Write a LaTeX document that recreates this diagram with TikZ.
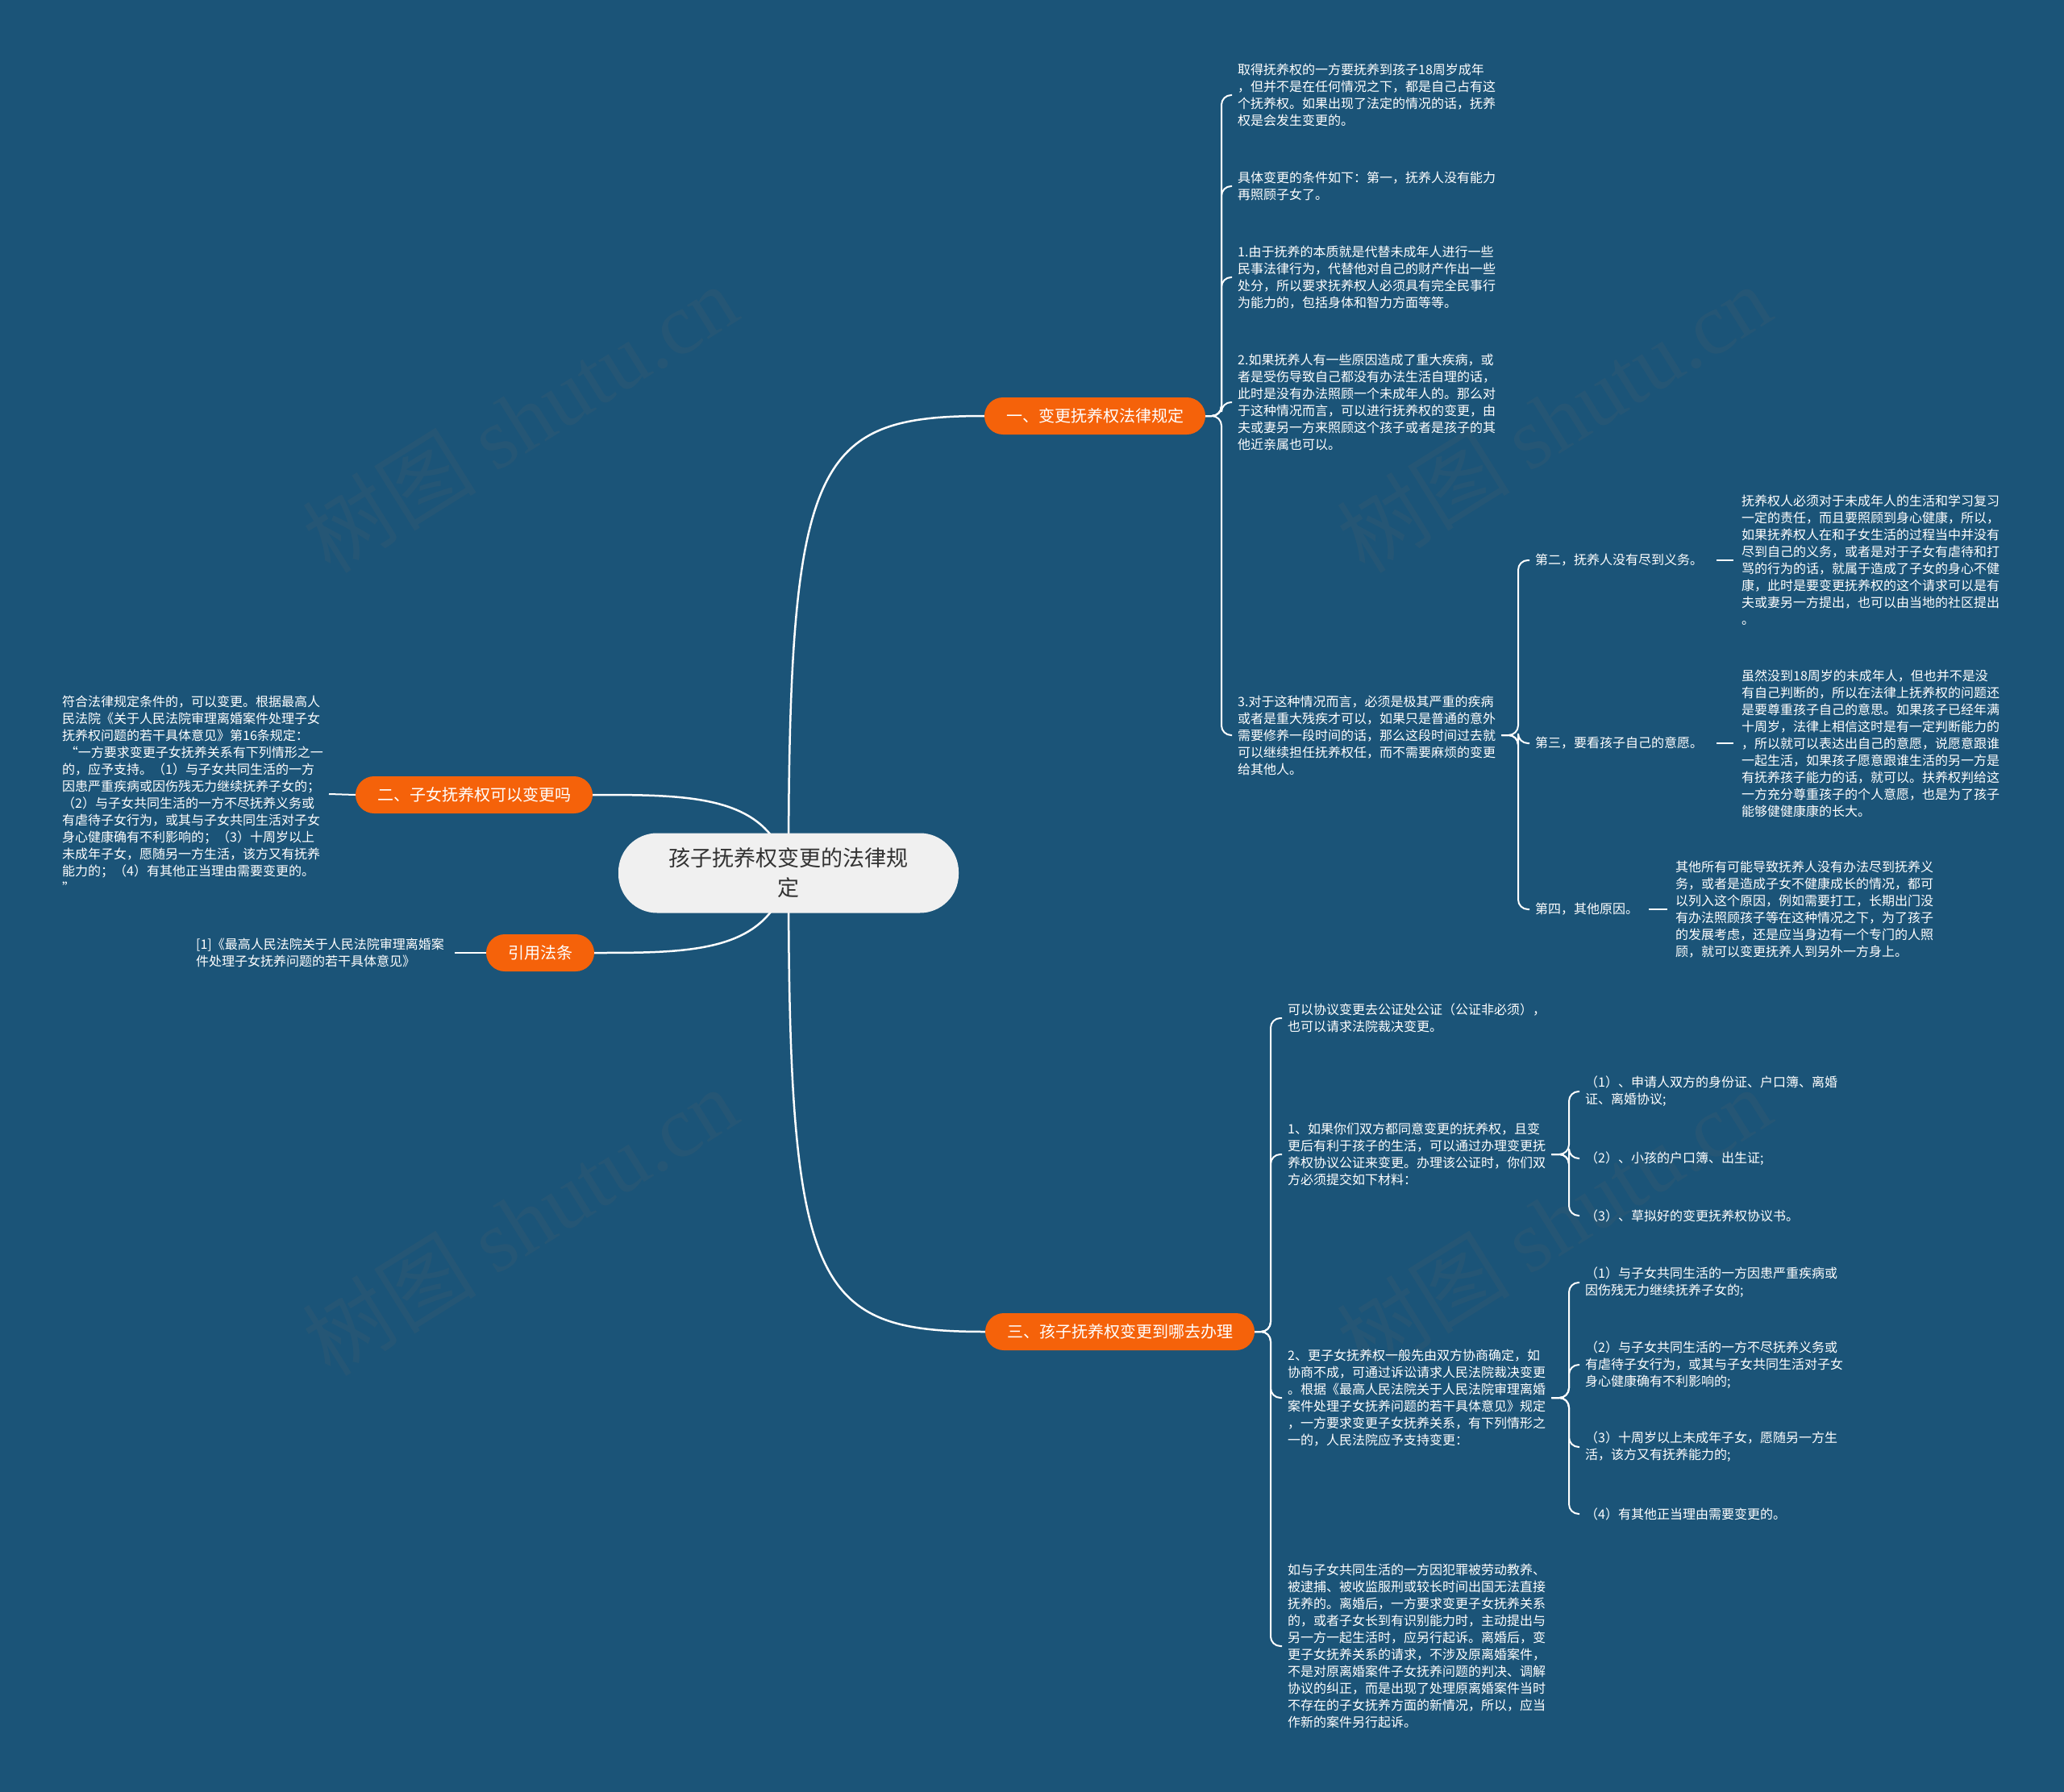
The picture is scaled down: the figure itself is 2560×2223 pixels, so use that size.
\documentclass[tikz,border=0pt]{standalone}
\usepackage{fontspec}
\setmainfont{Noto Sans CJK SC}
\newfontfamily\wmfont{Liberation Serif}
\usetikzlibrary{calc}
\definecolor{bgblue}{HTML}{1B5478}
\definecolor{orangeb}{HTML}{F5620A}
\definecolor{rootfill}{HTML}{F0F0F0}
\definecolor{roottext}{HTML}{333333}
\pgfdeclarelayer{bgl}
\pgfdeclarelayer{edgel}
\pgfsetlayers{bgl,edgel,main}
\tikzset{
  leaf/.style={anchor=west, align=left, text=white, inner xsep=7pt, inner ysep=2pt,
    font=\fontsize{16}{21}\selectfont},
  branch/.style={fill=orangeb, text=white, rounded corners=23pt, minimum height=46pt,
    inner xsep=27pt, inner ysep=0pt, font=\fontsize{20}{24}\selectfont},
  rootbox/.style={fill=rootfill, text=roottext, rounded corners=48pt, minimum width=422pt,
    minimum height=99pt, align=center, font=\fontsize{27}{37}\selectfont},
  edge/.style={draw=white, line width=2pt, rounded corners=12pt},
  mainedge/.style={draw=white, line width=2.5pt},
  wm/.style={text=white!40!black, opacity=0.14, rotate=32, font=\fontsize{108}{108}\selectfont}
}
\begin{document}
\begin{tikzpicture}[x=1pt,y=-1pt]
\useasboundingbox (0,0) rectangle (2560,2223);
\begin{pgfonlayer}{bgl}
\fill[bgblue] (0,0) rectangle (2560,2223);
\node[wm] (wm1) at (645,519) {树图 {\wmfont shutu.cn}};
\node[wm] (wm2) at (1927,519) {树图 {\wmfont shutu.cn}};
\node[wm] (wm3) at (645,1515) {树图 {\wmfont shutu.cn}};
\node[wm] (wm4) at (1927,1515) {树图 {\wmfont shutu.cn}};
\end{pgfonlayer}

% root and branches
\node[rootbox] (root) at (978,1083) {孩子抚养权变更的法律规\\定};
\node[branch] (b1) at (1358,516) {一、变更抚养权法律规定};
\node[branch] (b2) at (588,986) {二、子女抚养权可以变更吗};
\node[branch] (bc) at (670,1182) {引用法条};
\node[branch] (b3) at (1389,1652) {三、孩子抚养权变更到哪去办理};

% branch 1 children
\node[leaf] (c1a) at (1528,118) {取得抚养权的一方要抚养到孩子18周岁成年\\，但并不是在任何情况之下，都是自己占有这\\个抚养权。如果出现了法定的情况的话，抚养\\权是会发生变更的。};
\node[leaf] (c1b) at (1528,231) {具体变更的条件如下：第一，抚养人没有能力\\再照顾子女了。};
\node[leaf] (c1c) at (1528,344) {1.由于抚养的本质就是代替未成年人进行一些\\民事法律行为，代替他对自己的财产作出一些\\处分，所以要求抚养权人必须具有完全民事行\\为能力的，包括身体和智力方面等等。};
\node[leaf] (c1d) at (1528,499) {2.如果抚养人有一些原因造成了重大疾病，或\\者是受伤导致自己都没有办法生活自理的话，\\此时是没有办法照顾一个未成年人的。那么对\\于这种情况而言，可以进行抚养权的变更，由\\夫或妻另一方来照顾这个孩子或者是孩子的其\\他近亲属也可以。};
\node[leaf] (c1e) at (1528,912) {3.对于这种情况而言，必须是极其严重的疾病\\或者是重大残疾才可以，如果只是普通的意外\\需要修养一段时间的话，那么这段时间过去就\\可以继续担任抚养权任，而不需要麻烦的变更\\给其他人。};

\node[leaf] (d2) at (1897,695) {第二，抚养人没有尽到义务。};
\node[leaf] (d3) at (1897,922) {第三，要看孩子自己的意愿。};
\node[leaf] (d4) at (1897,1128) {第四，其他原因。};

\node[leaf] (e2) at (2153,695) {抚养权人必须对于未成年人的生活和学习复习\\一定的责任，而且要照顾到身心健康，所以，\\如果抚养权人在和子女生活的过程当中并没有\\尽到自己的义务，或者是对于子女有虐待和打\\骂的行为的话，就属于造成了子女的身心不健\\康，此时是要变更抚养权的这个请求可以是有\\夫或妻另一方提出，也可以由当地的社区提出\\。};
\node[leaf] (e3) at (2153,922) {虽然没到18周岁的未成年人，但也并不是没\\有自己判断的，所以在法律上抚养权的问题还\\是要尊重孩子自己的意思。如果孩子已经年满\\十周岁，法律上相信这时是有一定判断能力的\\，所以就可以表达出自己的意愿，说愿意跟谁\\一起生活，如果孩子愿意跟谁生活的另一方是\\有抚养孩子能力的话，就可以。扶养权判给这\\一方充分尊重孩子的个人意愿，也是为了孩子\\能够健健康康的长大。};
\node[leaf] (e4) at (2071,1128) {其他所有可能导致抚养人没有办法尽到抚养义\\务，或者是造成子女不健康成长的情况，都可\\以列入这个原因，例如需要打工，长期出门没\\有办法照顾孩子等在这种情况之下，为了孩子\\的发展考虑，还是应当身边有一个专门的人照\\顾，就可以变更抚养人到另外一方身上。};

% branch 2 and citation children
\node[leaf] (c2) at (70,985) {符合法律规定条件的，可以变更。根据最高人\\民法院《关于人民法院审理离婚案件处理子女\\抚养权问题的若干具体意见》第16条规定：\\\ “一方要求变更子女抚养关系有下列情形之一\\的，应予支持。（1）与子女共同生活的一方\\因患严重疾病或因伤残无力继续抚养子女的；\\（2）与子女共同生活的一方不尽抚养义务或\\有虐待子女行为，或其与子女共同生活对子女\\身心健康确有不利影响的；（3）十周岁以上\\未成年子女，愿随另一方生活，该方又有抚养\\能力的；（4）有其他正当理由需要变更的。\\”};
\node[leaf] (c3) at (236,1182) {[1]《最高人民法院关于人民法院审理离婚案\\件处理子女抚养问题的若干具体意见》};

% branch 3 children
\node[leaf] (f1) at (1590,1263) {可以协议变更去公证处公证（公证非必须），\\也可以请求法院裁决变更。};
\node[leaf] (f2) at (1590,1432) {1、如果你们双方都同意变更的抚养权，且变\\更后有利于孩子的生活，可以通过办理变更抚\\养权协议公证来变更。办理该公证时，你们双\\方必须提交如下材料：};
\node[leaf] (f3) at (1590,1734) {2、更子女抚养权一般先由双方协商确定，如\\协商不成，可通过诉讼请求人民法院裁决变更\\。根据《最高人民法院关于人民法院审理离婚\\案件处理子女抚养问题的若干具体意见》规定\\，一方要求变更子女抚养关系，有下列情形之\\一的，人民法院应予支持变更：};
\node[leaf] (f4) at (1590,2042) {如与子女共同生活的一方因犯罪被劳动教养、\\被逮捕、被收监服刑或较长时间出国无法直接\\抚养的。离婚后，一方要求变更子女抚养关系\\的，或者子女长到有识别能力时，主动提出与\\另一方一起生活时，应另行起诉。离婚后，变\\更子女抚养关系的请求，不涉及原离婚案件，\\不是对原离婚案件子女抚养问题的判决、调解\\协议的纠正，而是出现了处理原离婚案件当时\\不存在的子女抚养方面的新情况，所以，应当\\作新的案件另行起诉。};

\node[leaf] (g1) at (1959,1354) {（1）、申请人双方的身份证、户口簿、离婚\\证、离婚协议;};
\node[leaf] (g2) at (1959,1437) {（2）、小孩的户口簿、出生证;};
\node[leaf] (g3) at (1959,1508) {（3）、草拟好的变更抚养权协议书。};

\node[leaf] (h1) at (1959,1591) {（1）与子女共同生活的一方因患严重疾病或\\因伤残无力继续抚养子女的;};
\node[leaf] (h2) at (1959,1693) {（2）与子女共同生活的一方不尽抚养义务或\\有虐待子女行为，或其与子女共同生活对子女\\身心健康确有不利影响的;};
\node[leaf] (h3) at (1959,1795) {（3）十周岁以上未成年子女，愿随另一方生\\活，该方又有抚养能力的;};
\node[leaf] (h4) at (1959,1878) {（4）有其他正当理由需要变更的。};

% trunk x positions
\coordinate (tr1) at (1515,0);
\coordinate (tr1e) at (1883,0);
\coordinate (tr3) at (1576,0);
\coordinate (tr3b) at (1946,0);

\begin{pgfonlayer}{edgel}
% main curves
\draw[mainedge] (root.center) .. controls (978,570) and (1010,516) .. (b1.west);
\draw[mainedge] (root.center) .. controls (978,1600) and (1010,1652) .. (b3.west);
\draw[mainedge] (root.center) .. controls (955,986) and (860,986) .. (b2.east);
\draw[mainedge] (root.center) .. controls (955,1182) and (860,1182) .. (bc.east);
% branch 1
\foreach \c in {c1a,c1b,c1c,c1d,c1e}
  \draw[edge] (b1.east) -- (b1.east -| tr1) |- (\c.west);
\foreach \c in {d2,d3,d4}
  \draw[edge] (c1e.east) -- (c1e.east -| tr1e) |- (\c.west);
\draw[edge, shorten <=10pt, shorten >=3pt] (d2.east) -- (e2.west);
\draw[edge, shorten <=10pt, shorten >=3pt] (d3.east) -- (e3.west);
\draw[edge, shorten <=6pt, shorten >=3pt] (d4.east) -- (e4.west);
% branch 2, cite
\draw[edge] (b2.west) -- (c2.east);
\draw[edge, shorten >=6pt] (bc.west) -- (c3.east);
% branch 3
\foreach \c in {f1,f2,f3,f4}
  \draw[edge] (b3.east) -- (b3.east -| tr3) |- (\c.west);
\foreach \c in {g1,g2,g3}
  \draw[edge] (f2.east) -- (f2.east -| tr3b) |- (\c.west);
\foreach \c in {h1,h2,h3,h4}
  \draw[edge] (f3.east) -- (f3.east -| tr3b) |- (\c.west);
\end{pgfonlayer}
\end{tikzpicture}
\end{document}
